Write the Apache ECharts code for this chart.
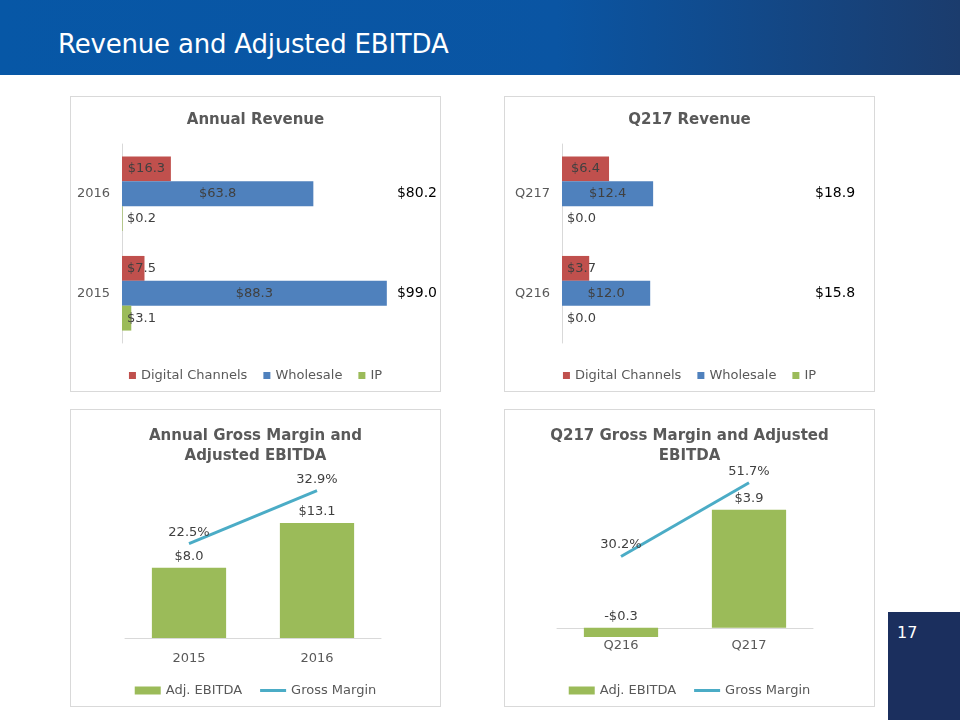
<!DOCTYPE html>
<html><head><meta charset="utf-8">
<script src="https://cdn.jsdelivr.net/npm/echarts@6/dist/echarts.min.js"></script>
<style>
html,body{margin:0;padding:0;background:#fff;width:960px;height:720px;overflow:hidden;font-family:"DejaVu Sans",sans-serif;}
#header{position:absolute;left:0;top:0;width:960px;height:75px;background:linear-gradient(90deg,#0757a6 0%,#0a55a3 58%,#1b3c6d 100%);}
#htitle{position:absolute;left:58px;top:29px;color:#fff;font-size:26px;font-family:"DejaVu Sans",sans-serif;line-height:30px;letter-spacing:-0.2px;}
.panel{position:absolute;border:1px solid #d9d9d9;box-sizing:border-box;}
.chart{width:100%;height:100%;}
#pnum{position:absolute;left:888px;top:612px;width:72px;height:108px;background:#1b2f5e;color:#fff;font-size:16px;}
#pnum span{position:absolute;left:9px;top:11px;}
</style></head>
<body>
<div id="header"><div id="htitle">Revenue and Adjusted EBITDA</div></div>
<div class="panel" style="left:70px;top:96px;width:371px;height:296px;"><div id="c1" class="chart"></div></div>
<div class="panel" style="left:504px;top:96px;width:371px;height:296px;"><div id="c2" class="chart"></div></div>
<div class="panel" style="left:70px;top:409px;width:371px;height:298px;"><div id="c3" class="chart"></div></div>
<div class="panel" style="left:504px;top:409px;width:371px;height:298px;"><div id="c4" class="chart"></div></div>
<div id="pnum"><span>17</span></div>
<script>
// ---- data ----
const revSeriesNames = ['Digital Channels', 'Wholesale', 'IP'];
const annualCats = ['2015', '2016'];
const annualDigital = [7.5, 16.3];
const annualWholesale = [88.3, 63.8];
const annualIP = [3.1, 0.2];
const annualTotal = [99.0, 80.2];

const quarterCats = ['Q216', 'Q217'];
const quarterDigital = [3.7, 6.4];
const quarterWholesale = [12.0, 12.4];
const quarterIP = [0.0, 0.0];
const quarterTotal = [15.8, 18.9];

const annualEbitda = [8.0, 13.1];
const annualGM = [22.5, 32.9];
const quarterEbitda = [-0.3, 3.9];
const quarterGM = [30.2, 51.7];

// ---- styling ----
const FONT = '"DejaVu Sans", sans-serif';
const RED = '#c0504d', BLUE = '#4f81bd', GREEN = '#9bbb59', TEAL = '#4bacc6';
const TXT = '#595959', LBL = '#404040';
const LINE_ICON = 'path://M0,0 M26,8 M0,2.5 L26,2.5 L26,5.5 L0,5.5 Z';
const money = v => (v < 0 ? '-$' : '$') + Math.abs(v).toFixed(1);

function revenueOption(title, cats, d1, d2, d3, totals, gridLeft, gridWidth, xMax, totalMargin) {
  const ppu = gridWidth / xMax;
  const mk = arr => arr.map(v => ({
    value: v,
    label: { position: v * ppu < 40 ? 'insideLeft' : 'inside', distance: 5 }
  }));
  const colors = [RED, BLUE, GREEN];
  const series = [d1, d2, d3].map((d, i) => ({
    name: revSeriesNames[i], type: 'bar', data: mk(d),
    barGap: '0%', barCategoryGap: '25%',
    itemStyle: { color: colors[i] },
    label: { show: true, formatter: p => money(p.value), color: LBL, fontSize: 13, fontFamily: FONT },
    emphasis: { disabled: true }
  }));
  return {
    animation: false,
    textStyle: { fontFamily: FONT },
    title: { text: title, left: 'center', top: 11,
      textStyle: { fontSize: 15, fontWeight: 'bold', color: TXT, fontFamily: FONT } },
    grid: { left: gridLeft, top: 47, width: gridWidth, height: 199 },
    xAxis: { type: 'value', min: 0, max: xMax, show: false },
    yAxis: [
      { type: 'category', data: cats, axisTick: { show: false },
        axisLine: { lineStyle: { color: '#d9d9d9' } },
        axisLabel: { color: TXT, fontSize: 13, margin: 12, fontFamily: FONT } },
      { type: 'category', data: cats, position: 'right', axisTick: { show: false },
        axisLine: { show: false },
        axisLabel: { color: '#000', fontSize: 14, margin: totalMargin, fontFamily: FONT,
          formatter: (v, i) => money(totals[i]) } }
    ],
    legend: { data: revSeriesNames, left: 'center', top: 267, itemWidth: 7, itemHeight: 7,
      itemGap: 16, icon: 'rect', textStyle: { color: TXT, fontSize: 13, fontFamily: FONT } },
    series: series
  };
}

function marginOption(title, cats, ebitda, gm, grid, yMin, yMax, y2Min, y2Max, labelMargin, catGap) {
  return {
    animation: false,
    textStyle: { fontFamily: FONT },
    title: { text: title, left: 'center', top: 11,
      textStyle: { fontSize: 15, fontWeight: 'bold', color: TXT, fontFamily: FONT, lineHeight: 20 } },
    grid: grid,
    xAxis: { type: 'category', data: cats, axisTick: { show: false },
      axisLine: { onZero: true, lineStyle: { color: '#d9d9d9' } },
      axisLabel: { color: TXT, fontSize: 13, margin: labelMargin, fontFamily: FONT } },
    yAxis: [
      { type: 'value', min: yMin, max: yMax, show: false, splitLine: { show: false } },
      { type: 'value', min: y2Min, max: y2Max, show: false, splitLine: { show: false } }
    ],
    legend: { left: 'center', top: 269,
      itemWidth: 26, itemHeight: 8, itemGap: 18,
      data: [{ name: 'Adj. EBITDA', icon: 'rect' }, { name: 'Gross Margin', icon: LINE_ICON }],
      textStyle: { color: TXT, fontSize: 13, fontFamily: FONT } },
    series: [
      { name: 'Adj. EBITDA', type: 'bar', data: ebitda, barCategoryGap: catGap,
        itemStyle: { color: GREEN },
        label: { show: true, position: 'top', distance: 5, color: LBL, fontSize: 13, fontFamily: FONT,
          formatter: p => money(p.value) },
        emphasis: { disabled: true } },
      { name: 'Gross Margin', type: 'line', yAxisIndex: 1, data: gm,
        symbol: 'circle', symbolSize: 0.1,
        lineStyle: { color: TEAL, width: 3 }, itemStyle: { color: TEAL },
        label: { show: true, position: 'top', distance: 5, color: LBL, fontSize: 13, fontFamily: FONT,
          formatter: p => p.value.toFixed(1) + '%' },
        emphasis: { disabled: true } }
    ]
  };
}

echarts.init(document.getElementById('c1')).setOption(
  revenueOption('Annual Revenue', annualCats, annualDigital, annualWholesale, annualIP, annualTotal, 51, 272, 90, 5));
echarts.init(document.getElementById('c2')).setOption(
  revenueOption('Q217 Revenue', quarterCats, quarterDigital, quarterWholesale, quarterIP, quarterTotal, 57, 147, 20, 106));
echarts.init(document.getElementById('c3')).setOption(
  marginOption('Annual Gross Margin and\nAdjusted EBITDA', annualCats, annualEbitda, annualGM,
    { left: 54, top: 70, width: 256, height: 158 }, 0, 18, 4, 35, 14, '42%'));
echarts.init(document.getElementById('c4')).setOption(
  marginOption('Q217 Gross Margin and Adjusted\nEBITDA', quarterCats, quarterEbitda, quarterGM,
    { left: 52, top: 66.5, width: 256, height: 166.5 }, -0.5, 5, 5, 53.5, -4, '42%'));
</script>
</body></html>
